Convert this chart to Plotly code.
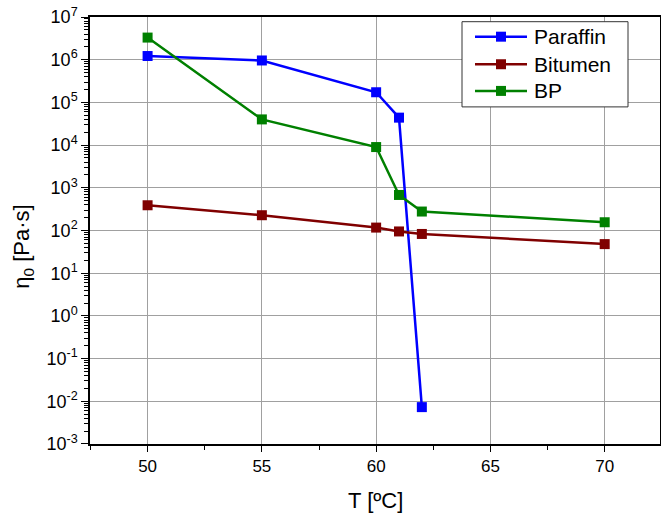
import plotly.graph_objects as go

temp_paraffin = [50, 55, 60, 61, 62]
eta_paraffin = [1.22e6, 9.6e5, 1.73e5, 4.4e4, 7.3e-3]
temp_bitumen = [50, 55, 60, 61, 62, 70]
eta_bitumen = [390, 228, 117, 95, 83, 48]
temp_bp = [50, 55, 60, 61, 62, 70]
eta_bp = [3.3e6, 4.0e4, 9.0e3, 680, 278, 156]

y_exponents = [-3, -2, -1, 0, 1, 2, 3, 4, 5, 6, 7]
x_ticks = [50, 55, 60, 65, 70]

series = [
    ("Paraffin", temp_paraffin, eta_paraffin, "#0000FF"),
    ("Bitumen", temp_bitumen, eta_bitumen, "#800000"),
    ("BP", temp_bp, eta_bp, "#008000"),
]

# body margin is removed by post_script, so the figure sits at the page origin
W, H = 661, 515
L, R, T, B = 90, 1, 17, 70.5
pw, ph = W - L - R, H - T - B


def px_x(p):  # page pixel x -> paper
    return (p - L) / pw


def px_y(p):  # page pixel y -> paper
    return (H - B - p) / ph


fig = go.Figure()
for name, x, y, c in series:
    fig.add_trace(go.Scatter(
        x=x, y=y, name=name, mode="lines+markers",
        line=dict(color=c, width=2.5),
        marker=dict(symbol="square", size=10, color=c),
        showlegend=False,
    ))

y_tickvals = [10.0 ** e for e in y_exponents]
y_ticktext = ["10<sup>%d</sup>" % e for e in y_exponents]
y_minor = [d * 10.0 ** e for e in y_exponents[:-1] for d in range(2, 10)]

# custom legend (box, line samples, markers, labels)
shapes = [dict(type="rect", xref="paper", yref="paper", layer="above",
               x0=px_x(462), x1=px_x(628), y0=px_y(107), y1=px_y(21.7),
               line=dict(color="#333", width=1), fillcolor="white")]
annotations = []
row_y = [36.7, 64.3, 91.0]
for (name, _, _, c), ry in zip(series, row_y):
    shapes.append(dict(type="line", xref="paper", yref="paper", layer="above",
                       x0=px_x(475), x1=px_x(527), y0=px_y(ry), y1=px_y(ry),
                       line=dict(color=c, width=2.5)))
    shapes.append(dict(type="rect", xref="paper", yref="paper", layer="above",
                       x0=px_x(496), x1=px_x(506), y0=px_y(ry + 5), y1=px_y(ry - 5),
                       line=dict(color=c, width=0), fillcolor=c))
    annotations.append(dict(text=name, xref="paper", yref="paper", x=px_x(532), y=px_y(ry),
                            xanchor="left", yanchor="middle", showarrow=False,
                            font=dict(size=21)))

annotations += [
    dict(text="T [ºC]", xref="paper", yref="paper", x=0.5, y=px_y(501),
         xanchor="center", yanchor="middle", showarrow=False, font=dict(size=22)),
    dict(text="η<sub>0</sub> [Pa·s]", xref="paper", yref="paper", x=px_x(23), y=px_y(247),
         xanchor="center", yanchor="middle", textangle=-90, showarrow=False,
         font=dict(size=22)),
]

font = "Liberation Sans, Arial, sans-serif"
fig.update_layout(
    width=W, height=H,
    margin=dict(l=L, r=R, t=T, b=B, autoexpand=False),
    plot_bgcolor="white", paper_bgcolor="white",
    font=dict(family=font, color="black", size=17),
    showlegend=False,
    xaxis=dict(
        range=[47.48, 72.42], tickvals=x_ticks,
        showgrid=True, gridcolor="#A0A0A0", gridwidth=1,
        ticks="outside", ticklen=6, tickwidth=1.2, tickcolor="black",
        showline=True, linecolor="black", linewidth=1.5, mirror=True,
        minor=dict(ticks="outside", ticklen=4, dtick=2.5, tick0=50, tickcolor="black", showgrid=False),
        tickfont=dict(size=17), zeroline=False, automargin=False,
        ticklabeloverflow="allow",
    ),
    yaxis=dict(
        type="log", range=[-3.0005, 7.0005],
        tickmode="array", tickvals=y_tickvals, ticktext=y_ticktext,
        showgrid=True, gridcolor="#A0A0A0", gridwidth=1,
        ticks="outside", ticklen=7, tickwidth=1.2, tickcolor="black",
        showline=True, linecolor="black", linewidth=1.5, mirror=True,
        minor=dict(ticks="outside", ticklen=4, tickmode="array", tickvals=y_minor,
                   tickcolor="black", showgrid=False),
        tickfont=dict(size=18), zeroline=False, automargin=False,
        ticklabeloverflow="allow",
    ),
    shapes=shapes,
    annotations=annotations,
)

fig.write_html("out.html", config={"displayModeBar": False},
               post_script="document.body.style.margin='0';")
